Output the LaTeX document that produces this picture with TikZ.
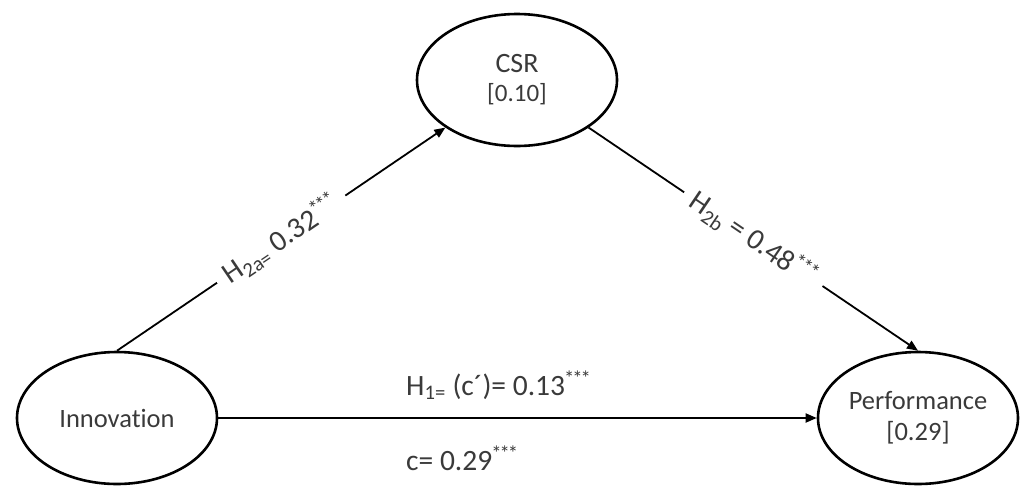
\documentclass[tikz,border=0pt]{standalone}
\usepackage{fontspec}
\setmainfont[Ligatures=CommonOff]{Carlito}
\usetikzlibrary{shapes.geometric,arrows.meta}
\definecolor{txt}{HTML}{3A3A3A}
\begin{document}
\begin{tikzpicture}[x=1pt,y=-1pt,
  latent/.style={draw=black,line width=2.6pt,ellipse,minimum width=200pt,minimum height=132pt,inner sep=0pt,
    text=txt,align=center,font=\fontsize{26.5}{33}\selectfont},
  path/.style={draw=black,line width=1.8pt,-{Triangle[length=11pt,width=9pt]}},
  lab/.style={text=txt,font=\fontsize{29.5}{33}\selectfont,fill=white,inner sep=3pt}
]
\useasboundingbox (0,0) rectangle (1025,485);
\node[latent] (csr) at (517,80) {\fontsize{28}{34}\selectfont CSR\\[-4pt]\fontsize{25}{30}\selectfont[0.10]};
\node[latent] (inno) at (117,418) {Innovation};
\node[latent] (perf) at (918,418) {Performance\\[-2pt][0.29]};
\draw[path] (inno.north) -- node[lab,sloped,pos=0.5,inner xsep=10pt] {H\textsubscript{2a=} 0.32\textsuperscript{\kern-1pt*\kern-2pt*\kern-2pt*}} (csr.south west);
\draw[path] (csr.south east) -- node[lab,sloped,pos=0.5,inner xsep=10pt] {H\textsubscript{2b} = 0.48\textsuperscript{\kern-1pt*\kern-2pt*\kern-2pt*}} (perf.north);
\draw[path] (inno.east) -- (perf.west);
\node[lab,anchor=base west,fill=none] (h1) at (403,395) {H\textsubscript{1=} (c´)= 0.13\textsuperscript{\kern-1pt*\kern-2pt*\kern-2pt*}};
\node[lab,anchor=base west,fill=none] (cc) at (403,470) {c= 0.29\textsuperscript{\kern-1pt*\kern-2pt*\kern-2pt*}};
\end{tikzpicture}
\end{document}
